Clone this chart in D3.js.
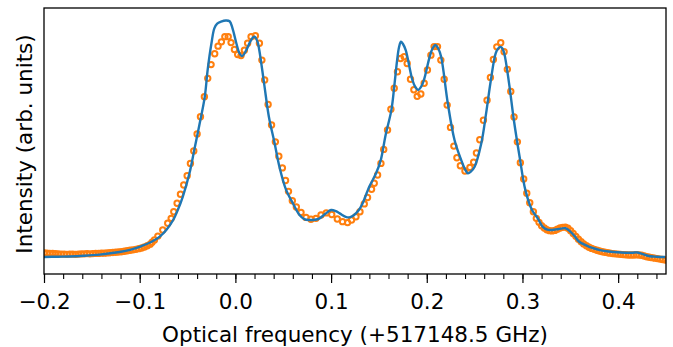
<!DOCTYPE html>
<html>
<head>
<meta charset="utf-8">
<script src="https://cdn.jsdelivr.net/npm/d3@7"></script>
<style>
  body { margin: 0; background: #fff; }
  text { font-family: "DejaVu Sans", sans-serif; }
</style>
</head>
<body>
<div id="chart"></div>
<script>
// fit curve (blue line)
const fitFreq = [-0.200, -0.185, -0.173, -0.158, -0.142, -0.121, -0.110, -0.098, -0.088, -0.079,
  -0.072, -0.065, -0.060, -0.055, -0.048, -0.043, -0.038, -0.032, -0.029, -0.025,
  -0.022, -0.019, -0.015, -0.010, -0.006, -0.003, 0.001, 0.004, 0.007, 0.011,
  0.015, 0.018, 0.020, 0.023, 0.025, 0.030, 0.035, 0.041, 0.046, 0.053,
  0.060, 0.067, 0.072, 0.077, 0.083, 0.088, 0.094, 0.100, 0.105, 0.109,
  0.116, 0.120, 0.124, 0.129, 0.133, 0.140, 0.147, 0.152, 0.157, 0.163,
  0.166, 0.169, 0.171, 0.173, 0.175, 0.178, 0.185, 0.188, 0.191, 0.194,
  0.197, 0.203, 0.206, 0.209, 0.212, 0.215, 0.222, 0.229, 0.236, 0.240,
  0.243, 0.246, 0.250, 0.257, 0.262, 0.267, 0.272, 0.275, 0.277, 0.279,
  0.281, 0.286, 0.291, 0.297, 0.303, 0.310, 0.316, 0.321, 0.326, 0.331,
  0.338, 0.345, 0.350, 0.355, 0.359, 0.366, 0.373, 0.381, 0.390, 0.403,
  0.415, 0.420, 0.425, 0.432, 0.440, 0.449];
const fitInt = [0.000, 0.001, 0.002, 0.005, 0.010, 0.021, 0.030, 0.046, 0.063, 0.086,
  0.115, 0.156, 0.200, 0.254, 0.353, 0.451, 0.550, 0.676, 0.789, 0.902,
  0.965, 0.985, 0.993, 0.998, 0.995, 0.965, 0.902, 0.862, 0.848, 0.870,
  0.905, 0.925, 0.930, 0.910, 0.873, 0.733, 0.592, 0.480, 0.381, 0.283,
  0.227, 0.177, 0.160, 0.156, 0.157, 0.163, 0.182, 0.198, 0.193, 0.184,
  0.168, 0.168, 0.177, 0.198, 0.227, 0.297, 0.353, 0.410, 0.515, 0.620,
  0.719, 0.830, 0.885, 0.909, 0.900, 0.873, 0.747, 0.718, 0.705, 0.718,
  0.747, 0.845, 0.880, 0.895, 0.880, 0.845, 0.648, 0.494, 0.409, 0.370,
  0.353, 0.360, 0.381, 0.480, 0.606, 0.747, 0.859, 0.882, 0.887, 0.880,
  0.859, 0.733, 0.578, 0.423, 0.283, 0.198, 0.163, 0.128, 0.115, 0.114,
  0.118, 0.121, 0.107, 0.085, 0.065, 0.050, 0.038, 0.029, 0.023, 0.019,
  0.018, 0.019, 0.013, 0.004, 0.001, 0.000];

// measured spectrum (orange circles)
const measFreq = [-0.200, -0.197, -0.194, -0.191, -0.188, -0.185, -0.182, -0.179, -0.176, -0.173,
  -0.170, -0.167, -0.164, -0.161, -0.158, -0.155, -0.152, -0.149, -0.146, -0.143,
  -0.140, -0.137, -0.134, -0.131, -0.128, -0.125, -0.122, -0.119, -0.116, -0.113,
  -0.110, -0.107, -0.104, -0.101, -0.098, -0.095, -0.092, -0.089, -0.087, -0.0846,
  -0.081, -0.0759, -0.0707, -0.0671, -0.0644, -0.0609, -0.0574, -0.0540, -0.0504, -0.0470,
  -0.0435, -0.0400, -0.0365, -0.0324, -0.0289, -0.0254, -0.0216, -0.0181, -0.0146, -0.0110,
  -0.0075, -0.0045, -0.0010, 0.0024, 0.0059, 0.0094, 0.0128, 0.0164, 0.0209, 0.0251,
  0.0277, 0.0306, 0.0342, 0.0378, 0.0418, 0.0454, 0.0491, 0.0524, 0.0555, 0.0595,
  0.0637, 0.0686, 0.0738, 0.0790, 0.0842, 0.0895, 0.0950, 0.1007, 0.1065, 0.1120,
  0.1172, 0.1214, 0.1260, 0.1302, 0.1347, 0.1381, 0.1423, 0.1451, 0.1486, 0.1521,
  0.1550, 0.1590, 0.1625, 0.1660, 0.1694, 0.1726, 0.1764, 0.1795, 0.1830, 0.1865,
  0.1900, 0.1938, 0.1973, 0.2007, 0.2043, 0.2077, 0.2112, 0.2147, 0.2182, 0.2213,
  0.2248, 0.2283, 0.2315, 0.2351, 0.2399, 0.2451, 0.2490, 0.2519, 0.2554, 0.2592,
  0.2630, 0.2665, 0.2696, 0.2732, 0.2773, 0.2808, 0.2842, 0.2878, 0.2912, 0.2947,
  0.2978, 0.3013, 0.3045, 0.3076, 0.3114, 0.3145, 0.3173, 0.3200, 0.3228, 0.3255,
  0.3283, 0.3310, 0.3338, 0.3365, 0.3393, 0.3420, 0.3448, 0.3475, 0.3503, 0.3530,
  0.3558, 0.3585, 0.3613, 0.3640, 0.3668, 0.3695, 0.3723, 0.3750, 0.3778, 0.3805,
  0.3833, 0.3860, 0.3888, 0.3915, 0.3943, 0.3970, 0.3998, 0.4025, 0.4053, 0.4080,
  0.4108, 0.4135, 0.4163, 0.4190, 0.4218, 0.4245, 0.4273, 0.4300, 0.4328, 0.4355,
  0.4383, 0.4410, 0.4438, 0.4465, 0.4493];
const measInt = [0.017, 0.016, 0.015, 0.015, 0.014, 0.013, 0.012, 0.012, 0.011, 0.012,
  0.012, 0.011, 0.012, 0.013, 0.013, 0.014, 0.013, 0.014, 0.015, 0.015,
  0.016, 0.016, 0.017, 0.018, 0.019, 0.020, 0.021, 0.022, 0.024, 0.026,
  0.028, 0.030, 0.032, 0.035, 0.038, 0.042, 0.047, 0.054, 0.062, 0.072,
  0.088, 0.114, 0.142, 0.163, 0.191, 0.227, 0.265, 0.304, 0.343, 0.395,
  0.447, 0.519, 0.592, 0.676, 0.754, 0.812, 0.858, 0.890, 0.908, 0.930,
  0.930, 0.905, 0.876, 0.855, 0.850, 0.873, 0.902, 0.930, 0.934, 0.902,
  0.831, 0.747, 0.644, 0.557, 0.486, 0.425, 0.376, 0.323, 0.277, 0.237,
  0.211, 0.188, 0.167, 0.159, 0.163, 0.177, 0.186, 0.179, 0.160, 0.149,
  0.145, 0.156, 0.170, 0.191, 0.224, 0.251, 0.286, 0.311, 0.346, 0.395,
  0.454, 0.536, 0.624, 0.712, 0.782, 0.838, 0.845, 0.817, 0.750, 0.706,
  0.678, 0.688, 0.733, 0.789, 0.852, 0.888, 0.888, 0.831, 0.750, 0.641,
  0.547, 0.468, 0.419, 0.385, 0.363, 0.378, 0.400, 0.439, 0.495, 0.577,
  0.662, 0.758, 0.834, 0.887, 0.904, 0.866, 0.792, 0.699, 0.591, 0.486,
  0.398, 0.329, 0.269, 0.229, 0.191, 0.163, 0.146, 0.132, 0.122, 0.115,
  0.111, 0.110, 0.112, 0.117, 0.122, 0.125, 0.126, 0.121, 0.111, 0.099,
  0.087, 0.075, 0.064, 0.055, 0.047, 0.041, 0.036, 0.032, 0.028, 0.025,
  0.022, 0.020, 0.018, 0.016, 0.014, 0.013, 0.012, 0.011, 0.010, 0.009,
  0.008, 0.008, 0.008, 0.009, 0.008, 0.007, 0.004, 0.001, -0.001, -0.003,
  -0.005, -0.007, -0.009, -0.011, -0.013];

const xTicks = [-0.2, -0.1, 0.0, 0.1, 0.2, 0.3, 0.4];
const xMinorTicks = d3.range(-20, 46, 2).map(d => d / 100);

const width = 673, height = 347;
const margin = {top: 8, right: 7, bottom: 73, left: 44};
const w = width - margin.left - margin.right;
const h = height - margin.top - margin.bottom;
const fontSize = "21.5px";

const x = d3.scaleLinear().domain([-0.2, 0.45]).range([0, w]);
const y = d3.scaleLinear().domain([-0.072, 1.051]).range([h, 0]);

const svg = d3.select("#chart").append("svg")
  .attr("width", width)
  .attr("height", height);

const g = svg.append("g").attr("transform", `translate(${margin.left},${margin.top})`);

g.append("clipPath").attr("id", "clip")
  .append("rect").attr("width", w).attr("height", h);

const plot = g.append("g").attr("clip-path", "url(#clip)");

const meas = measFreq.map((f, i) => [f, measInt[i]]);
const fit = fitFreq.map((f, i) => [f, fitInt[i]]);

plot.selectAll("circle")
  .data(meas)
  .enter()
  .append("circle")
  .attr("cx", d => x(d[0]))
  .attr("cy", d => y(d[1]))
  .attr("r", 2.7)
  .attr("fill", "none")
  .attr("stroke", "#ff7f0e")
  .attr("stroke-width", 2);

const line = d3.line()
  .x(d => x(d[0]))
  .y(d => y(d[1]))
  .curve(d3.curveCatmullRom);

plot.append("path")
  .datum(fit)
  .attr("fill", "none")
  .attr("stroke", "#1f77b4")
  .attr("stroke-width", 2.4)
  .attr("d", line);

// x axis: minor then major ticks
const fmt = d => d3.format(".1f")(d).replace("-", "\u2212");

g.append("g")
  .attr("transform", `translate(0,${h})`)
  .call(d3.axisBottom(x).tickValues(xMinorTicks).tickSize(5).tickFormat(""))
  .call(a => a.select(".domain").remove())
  .call(a => a.selectAll("line").attr("stroke", "#000").attr("stroke-width", 1.1));

const xAxis = g.append("g")
  .attr("transform", `translate(0,${h})`)
  .call(d3.axisBottom(x).tickValues(xTicks).tickSize(9).tickPadding(11).tickFormat(fmt));
xAxis.select(".domain").remove();
xAxis.selectAll("line").attr("stroke", "#000").attr("stroke-width", 1.2);
xAxis.selectAll("text")
  .attr("fill", "#000")
  .style("font-family", "DejaVu Sans")
  .style("font-size", fontSize);

// frame
g.append("rect")
  .attr("width", w)
  .attr("height", h)
  .attr("fill", "none")
  .attr("stroke", "#000")
  .attr("stroke-width", 1.3);

svg.append("text")
  .attr("x", margin.left + x(0.125))
  .attr("y", 342)
  .attr("text-anchor", "middle")
  .style("font-size", fontSize)
  .text("Optical frequency (+517148.5 GHz)");

svg.append("text")
  .attr("transform", `translate(32,${margin.top + h / 2 + 3}) rotate(-90)`)
  .attr("text-anchor", "middle")
  .style("font-size", fontSize)
  .text("Intensity (arb. units)");
</script>
</body>
</html>
